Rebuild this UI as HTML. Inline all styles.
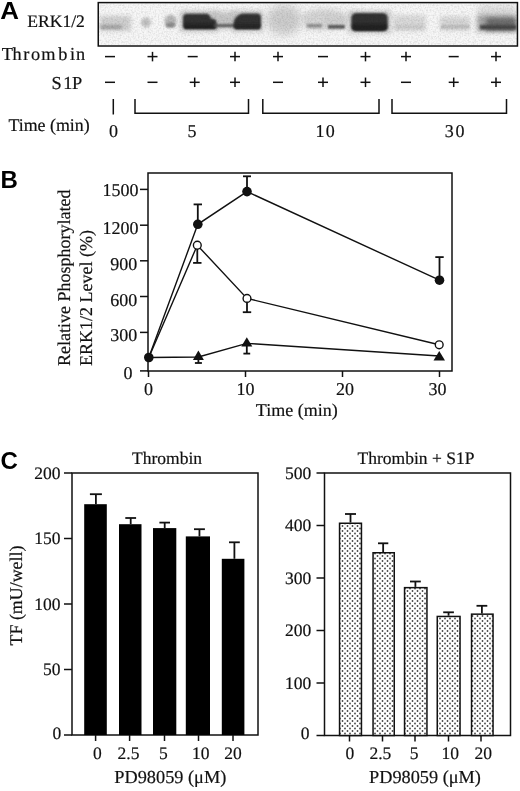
<!DOCTYPE html>
<html><head><meta charset="utf-8"><style>
html,body{margin:0;padding:0;background:#fff;width:520px;height:791px;overflow:hidden}
svg{display:block;filter:blur(0.3px)}
.t{font-family:"Liberation Serif",serif;font-size:17.5px;fill:#111;stroke:#111;stroke-width:0.2px;text-rendering:geometricPrecision}
.n{font-size:18.5px}
.L{font-family:"Liberation Sans",sans-serif;font-weight:bold;font-size:24px;fill:#000}
</style></head><body>
<svg width="520" height="791" viewBox="0 0 520 791">
<defs>
<filter id="g0.6" x="-50%" y="-50%" width="200%" height="200%"><feGaussianBlur stdDeviation="0.6"/></filter>
<filter id="g0.8" x="-50%" y="-50%" width="200%" height="200%"><feGaussianBlur stdDeviation="0.8"/></filter>
<filter id="g1" x="-50%" y="-50%" width="200%" height="200%"><feGaussianBlur stdDeviation="1"/></filter>
<filter id="g1.2" x="-50%" y="-50%" width="200%" height="200%"><feGaussianBlur stdDeviation="1.2"/></filter>
<filter id="g1.5" x="-50%" y="-50%" width="200%" height="200%"><feGaussianBlur stdDeviation="1.5"/></filter>
<filter id="g2" x="-50%" y="-50%" width="200%" height="200%"><feGaussianBlur stdDeviation="2"/></filter>
<filter id="g2.5" x="-50%" y="-50%" width="200%" height="200%"><feGaussianBlur stdDeviation="2.5"/></filter>
<filter id="g3" x="-50%" y="-50%" width="200%" height="200%"><feGaussianBlur stdDeviation="3"/></filter>
<filter id="g3.5" x="-50%" y="-50%" width="200%" height="200%"><feGaussianBlur stdDeviation="3.5"/></filter>
<filter id="g4" x="-50%" y="-50%" width="200%" height="200%"><feGaussianBlur stdDeviation="4"/></filter>
<filter id="g5" x="-50%" y="-50%" width="200%" height="200%"><feGaussianBlur stdDeviation="5"/></filter>
<filter id="noise" x="0" y="0" width="100%" height="100%"><feTurbulence type="fractalNoise" baseFrequency="0.6" numOctaves="2" seed="3"/><feColorMatrix type="matrix" values="0 0 0 0 0  0 0 0 0 0  0 0 0 0 0  1.2 0 0 0 -0.45"/></filter>
<filter id="b1" x="-50%" y="-50%" width="200%" height="200%"><feGaussianBlur stdDeviation="2.2"/></filter>
<filter id="b2" x="-50%" y="-50%" width="200%" height="200%"><feGaussianBlur stdDeviation="1.3"/></filter>
<filter id="b3" x="-50%" y="-50%" width="200%" height="200%"><feGaussianBlur stdDeviation="3.5"/></filter>
<pattern id="dots" x="0" y="0" width="5" height="5" patternUnits="userSpaceOnUse">
<rect width="5" height="5" fill="#fff"/>
<circle cx="2.5" cy="1" r="0.9" fill="#444"/>
<circle cx="0" cy="3.5" r="0.9" fill="#444"/>
<circle cx="5" cy="3.5" r="0.9" fill="#444"/>
</pattern>
<clipPath id="blotclip"><rect x="99" y="3.5" width="418" height="41.5"/></clipPath>
</defs>

<text class="L" transform="translate(0.3,19.2) scale(1.08,1)" x="0" y="0">A</text>
<text class="L" x="0.5" y="187.7">B</text>
<text class="L" x="0.5" y="469">C</text>
<g clip-path="url(#blotclip)">
<rect x="98" y="2" width="420" height="45" fill="#f7f7f7"/>
<ellipse cx="284" cy="20" rx="18" ry="15" fill="#cdcdcd" filter="url(#g4)"/>
<ellipse cx="325" cy="19" rx="23" ry="10" fill="#d2d2d2" filter="url(#g3)"/>
<rect x="478" y="5" width="38" height="13" rx="0" fill="#dedede" filter="url(#g3)"/>
<rect x="100" y="16" width="31" height="15" rx="0" fill="#cfcfcf" filter="url(#g2)"/>
<rect x="100" y="25" width="22" height="4" rx="0" fill="#a2a2a2" filter="url(#g1.5)"/>
<ellipse cx="146" cy="22.5" rx="5" ry="5" fill="#c2c2c2" filter="url(#g1.5)"/>
<ellipse cx="170.5" cy="21" rx="6" ry="6.5" fill="#b8b8b8" filter="url(#g1.5)"/>
<ellipse cx="170.5" cy="25" rx="5" ry="2.5" fill="#8c8c8c" filter="url(#g1)"/>
<rect x="180" y="11" width="39" height="20.5" rx="0" fill="#c4c4c4" filter="url(#g2.5)"/>
<rect x="214" y="12" width="23" height="17" rx="0" fill="#c6c6c6" filter="url(#g2.5)"/>
<rect x="232" y="11" width="31" height="20.5" rx="0" fill="#c4c4c4" filter="url(#g2.5)"/>
<path d="M187,13.8 L206,13.8 Q210,13.8 211,18.5 L214,19 Q216.5,19.5 216.5,23 L216.5,25.5 Q216.5,28.8 213,28.8 L187,28.8 Q183,28.8 183,24 L183,18 Q183,13.8 187,13.8 Z" fill="#333" filter="url(#g1.2)"/>
<rect x="184" y="24" width="32" height="4.800000000000001" rx="0" fill="#222" filter="url(#g1)"/>
<rect x="214" y="24.2" width="24" height="2.8000000000000007" rx="0" fill="#555" filter="url(#g0.8)"/>
<path d="M242,13.6 L257,13.6 Q261,13.6 261,18 L261,24.5 Q261,29 257,29 L237,29 Q233.5,29 233.5,25.5 L233.5,22 Q234.5,16.5 242,13.6 Z" fill="#333" filter="url(#g1.2)"/>
<rect x="235" y="24" width="25" height="5" rx="0" fill="#262626" filter="url(#g1)"/>
<rect x="305" y="14" width="18" height="15" rx="0" fill="#d6d6d6" filter="url(#g2)"/>
<rect x="307" y="24" width="15" height="3.5" rx="0" fill="#8c8c8c" filter="url(#g1)"/>
<rect x="327" y="16" width="18" height="12" rx="0" fill="#d0d0d0" filter="url(#g2)"/>
<rect x="328" y="25" width="17" height="3.6000000000000014" rx="0" fill="#555" filter="url(#g1)"/>
<rect x="348" y="11" width="43" height="22" rx="0" fill="#c6c6c6" filter="url(#g2.5)"/>
<rect x="351.3" y="13" width="36.39999999999998" height="17.9" rx="5" fill="#303030" filter="url(#g1.2)"/>
<rect x="352" y="24" width="35" height="6.5" rx="3" fill="#242424" filter="url(#g1)"/>
<rect x="393" y="15" width="33" height="16" rx="0" fill="#dadada" filter="url(#g2)"/>
<rect x="395" y="25" width="29" height="4" rx="0" fill="#cacaca" filter="url(#g1.5)"/>
<rect x="440" y="16.6" width="30" height="13.899999999999999" rx="0" fill="#d6d6d6" filter="url(#g2)"/>
<rect x="441" y="25" width="28" height="3.5" rx="0" fill="#bdbdbd" filter="url(#g1.2)"/>
<rect x="477" y="15" width="39" height="16.5" rx="0" fill="#a4a4a4" filter="url(#g2.5)"/>
<rect x="486" y="18" width="30" height="12.5" rx="0" fill="#6c6c6c" filter="url(#g2)"/>
<rect x="480" y="25" width="36" height="4.5" rx="0" fill="#464646" filter="url(#g1.2)"/>
<rect x="98" y="2" width="420" height="45" filter="url(#noise)" opacity="0.18"/>
</g>
<rect x="98.25" y="2.6" width="419.2" height="43.4" fill="none" stroke="#111" stroke-width="1.5"/>
<text class="t" style="font-size:17.6px" transform="translate(27.2,26.9) scale(1,1)" x="0" y="0">ERK1/2</text>
<text class="t" style="font-size:18.3px" y="60.3" x="1.8 12.6 23.3 30.9 41.2 58.3 70 76">Thrombin</text>
<text class="t" style="font-size:18.3px" y="89" x="51.5 63.3 72">S1P</text>
<text class="t" style="font-size:17.9px" transform="translate(8.4,131.1) scale(1,1)" x="0" y="0">Time (min)</text>
<line x1="105" y1="56.6" x2="115" y2="56.6" stroke="#111" stroke-width="1.5"/>
<line x1="105" y1="82.3" x2="115" y2="82.3" stroke="#111" stroke-width="1.5"/>
<line x1="147.5" y1="56.6" x2="157.5" y2="56.6" stroke="#111" stroke-width="1.5"/><line x1="152.5" y1="51.85" x2="152.5" y2="61.35" stroke="#111" stroke-width="1.5"/>
<line x1="147.5" y1="82.3" x2="157.5" y2="82.3" stroke="#111" stroke-width="1.5"/>
<line x1="187.7" y1="56.6" x2="197.7" y2="56.6" stroke="#111" stroke-width="1.5"/>
<line x1="189.7" y1="82.3" x2="199.7" y2="82.3" stroke="#111" stroke-width="1.5"/><line x1="194.7" y1="77.55" x2="194.7" y2="87.05" stroke="#111" stroke-width="1.5"/>
<line x1="230" y1="56.6" x2="240" y2="56.6" stroke="#111" stroke-width="1.5"/><line x1="235" y1="51.85" x2="235" y2="61.35" stroke="#111" stroke-width="1.5"/>
<line x1="230" y1="82.3" x2="240" y2="82.3" stroke="#111" stroke-width="1.5"/><line x1="235" y1="77.55" x2="235" y2="87.05" stroke="#111" stroke-width="1.5"/>
<line x1="273" y1="56.6" x2="283" y2="56.6" stroke="#111" stroke-width="1.5"/><line x1="278" y1="51.85" x2="278" y2="61.35" stroke="#111" stroke-width="1.5"/>
<line x1="273" y1="82.3" x2="283" y2="82.3" stroke="#111" stroke-width="1.5"/>
<line x1="318" y1="56.6" x2="328" y2="56.6" stroke="#111" stroke-width="1.5"/>
<line x1="318" y1="82.3" x2="328" y2="82.3" stroke="#111" stroke-width="1.5"/><line x1="323" y1="77.55" x2="323" y2="87.05" stroke="#111" stroke-width="1.5"/>
<line x1="360.5" y1="56.6" x2="370.5" y2="56.6" stroke="#111" stroke-width="1.5"/><line x1="365.5" y1="51.85" x2="365.5" y2="61.35" stroke="#111" stroke-width="1.5"/>
<line x1="360.5" y1="82.3" x2="370.5" y2="82.3" stroke="#111" stroke-width="1.5"/><line x1="365.5" y1="77.55" x2="365.5" y2="87.05" stroke="#111" stroke-width="1.5"/>
<line x1="401" y1="56.6" x2="411" y2="56.6" stroke="#111" stroke-width="1.5"/><line x1="406" y1="51.85" x2="406" y2="61.35" stroke="#111" stroke-width="1.5"/>
<line x1="401" y1="82.3" x2="411" y2="82.3" stroke="#111" stroke-width="1.5"/>
<line x1="448.7" y1="56.6" x2="458.7" y2="56.6" stroke="#111" stroke-width="1.5"/>
<line x1="448.7" y1="82.3" x2="458.7" y2="82.3" stroke="#111" stroke-width="1.5"/><line x1="453.7" y1="77.55" x2="453.7" y2="87.05" stroke="#111" stroke-width="1.5"/>
<line x1="491" y1="56.6" x2="501" y2="56.6" stroke="#111" stroke-width="1.5"/><line x1="496" y1="51.85" x2="496" y2="61.35" stroke="#111" stroke-width="1.5"/>
<line x1="491" y1="82.3" x2="501" y2="82.3" stroke="#111" stroke-width="1.5"/><line x1="496" y1="77.55" x2="496" y2="87.05" stroke="#111" stroke-width="1.5"/>
<g stroke="#111" stroke-width="1.5" fill="none">
<line x1="113.3" y1="99" x2="113.3" y2="114.5"/>
<polyline points="135,99 135,113.2 248.5,113.2 248.5,99"/>
<polyline points="262.8,99 262.8,113.2 379,113.2 379,99"/>
<polyline points="392,99 392,113.2 506.5,113.2 506.5,99"/>
</g>
<text class="t" style="font-size:18px" transform="translate(113.6,136.8) scale(1,1)" x="0" y="0" text-anchor="middle">0</text>
<text class="t" style="font-size:18px" transform="translate(192.1,136.8) scale(1,1)" x="0" y="0" text-anchor="middle">5</text>
<text class="t" style="font-size:18px" transform="translate(0,136.8) scale(1,1)" x="315.6 325.8" y="0">10</text>
<text class="t" style="font-size:18px" transform="translate(0,136.8) scale(1,1)" x="444.7 455.6" y="0">30</text>
<g stroke="#111" stroke-width="1.5" fill="none">
<rect x="148" y="173" width="304" height="198"/>
<line x1="140" y1="332.4" x2="148" y2="332.4"/>
<line x1="140" y1="296.5" x2="148" y2="296.5"/>
<line x1="140" y1="260.8" x2="148" y2="260.8"/>
<line x1="140" y1="225.2" x2="148" y2="225.2"/>
<line x1="140" y1="189.4" x2="148" y2="189.4"/>
<line x1="140" y1="370.9" x2="148" y2="370.9"/>
<line x1="148.5" y1="371" x2="148.5" y2="377"/>
<line x1="245.5" y1="371" x2="245.5" y2="377"/>
<line x1="342.5" y1="371" x2="342.5" y2="377"/>
<line x1="439.5" y1="371" x2="439.5" y2="377"/>
</g>
<text class="t" style="font-size:18px" transform="translate(138.5,196.1) scale(1,1)" x="0" y="0" text-anchor="end">1500</text>
<text class="t" style="font-size:18px" transform="translate(138.5,233.6) scale(1,1)" x="0" y="0" text-anchor="end">1200</text>
<text class="t" style="font-size:18px" transform="translate(137.3,269.6) scale(1,1)" x="0" y="0" text-anchor="end">900</text>
<text class="t" style="font-size:18px" transform="translate(137.3,305.9) scale(1,1)" x="0" y="0" text-anchor="end">600</text>
<text class="t" style="font-size:18px" transform="translate(137.3,341.3) scale(1,1)" x="0" y="0" text-anchor="end">300</text>
<text class="t" style="font-size:18px" transform="translate(132.4,379.3) scale(1,1)" x="0" y="0" text-anchor="end">0</text>
<text class="t" style="font-size:18px" transform="translate(148.6,395.2) scale(1,1)" x="0" y="0" text-anchor="middle">0</text>
<text class="t" style="font-size:18px" transform="translate(245.6,395.2) scale(1,1)" x="0" y="0" text-anchor="middle">10</text>
<text class="t" style="font-size:18px" transform="translate(345,395.2) scale(1,1)" x="0" y="0" text-anchor="middle">20</text>
<text class="t" style="font-size:18px" transform="translate(437.4,395.2) scale(1,1)" x="0" y="0" text-anchor="middle">30</text>
<text class="t" style="font-size:18px" transform="translate(296.7,416) scale(1,1)" x="0" y="0" text-anchor="middle">Time (min)</text>
<text class="t" style="font-size:18px" transform="translate(70,366) rotate(-90)" x="0" y="0">Relative Phosphorylated</text>
<text class="t" style="font-size:18px" transform="translate(91.5,366) rotate(-90)" x="0" y="0">ERK1/2 Level (%)</text>
<g stroke="#111" stroke-width="1.4" fill="none">
<polyline points="148.8,357.5 197.8,224.3 247,191.6 439.5,280.2"/>
<polyline points="148.8,357.5 197.3,245.2 247,298.4 439.2,344.8"/>
<polyline points="148.8,357.5 198.4,357 246.8,343.4 439.25,356"/>
<line x1="197.8" y1="224.3" x2="197.8" y2="204.4" stroke-width="1.8"/>
<line x1="193.60000000000002" y1="204.4" x2="202.0" y2="204.4" stroke-width="1.8"/>
<line x1="247" y1="191.6" x2="247" y2="176.3" stroke-width="1.8"/>
<line x1="243" y1="176.3" x2="251" y2="176.3" stroke-width="1.8"/>
<line x1="439.5" y1="280.2" x2="439.5" y2="257.1" stroke-width="1.8"/>
<line x1="435.3" y1="257.1" x2="443.7" y2="257.1" stroke-width="1.8"/>
<line x1="197.3" y1="245.2" x2="197.3" y2="262.9" stroke-width="1.8"/>
<line x1="193.10000000000002" y1="262.9" x2="201.5" y2="262.9" stroke-width="1.8"/>
<line x1="247" y1="298.4" x2="247" y2="312.2" stroke-width="1.8"/>
<line x1="242.8" y1="312.2" x2="251.2" y2="312.2" stroke-width="1.8"/>
<line x1="198.4" y1="357" x2="198.4" y2="363" stroke-width="1.8"/>
<line x1="194.9" y1="363" x2="201.9" y2="363" stroke-width="1.8"/>
<line x1="246.8" y1="343.4" x2="246.8" y2="353.6" stroke-width="1.8"/>
<line x1="243.4" y1="353.6" x2="250.20000000000002" y2="353.6" stroke-width="1.8"/>
</g>
<circle cx="197.3" cy="245.2" r="3.9" fill="#fff" stroke="#111" stroke-width="1.4"/>
<circle cx="247" cy="298.4" r="3.9" fill="#fff" stroke="#111" stroke-width="1.4"/>
<circle cx="439.2" cy="344.8" r="3.9" fill="#fff" stroke="#111" stroke-width="1.4"/>
<polygon points="198.4,350.5 192.9,360 203.9,360" fill="#111"/>
<polygon points="246.8,337.3 241.3,346.4 252.3,346.4" fill="#111"/>
<polygon points="439.25,351 433.5,360.5 445,360.5" fill="#111"/>
<circle cx="148.8" cy="357.5" r="4.8" fill="#111"/>
<circle cx="197.8" cy="224.3" r="4.8" fill="#111"/>
<circle cx="247" cy="191.6" r="4.8" fill="#111"/>
<circle cx="439.5" cy="280.2" r="4.8" fill="#111"/>
<g stroke="#111" stroke-width="1.5" fill="none">
<rect x="72" y="473" width="186" height="262"/>
<line x1="64" y1="735.0" x2="72" y2="735.0"/>
<line x1="64" y1="669.5" x2="72" y2="669.5"/>
<line x1="64" y1="604.0" x2="72" y2="604.0"/>
<line x1="64" y1="538.5" x2="72" y2="538.5"/>
<line x1="64" y1="473.0" x2="72" y2="473.0"/>
<line x1="95.6" y1="735" x2="95.6" y2="741"/>
<line x1="129.6" y1="735" x2="129.6" y2="741"/>
<line x1="164.5" y1="735" x2="164.5" y2="741"/>
<line x1="198.5" y1="735" x2="198.5" y2="741"/>
<line x1="233" y1="735" x2="233" y2="741"/>
</g>
<text class="t" style="font-size:17.5px" transform="translate(61.3,738.8) scale(1,1)" x="0" y="0" text-anchor="end">0</text>
<text class="t" style="font-size:17.5px" transform="translate(60.5,675.1) scale(1,1)" x="0" y="0" text-anchor="end">50</text>
<text class="t" style="font-size:17.5px" transform="translate(60.5,609.6) scale(1,1)" x="0" y="0" text-anchor="end">100</text>
<text class="t" style="font-size:17.5px" transform="translate(60.5,544.1) scale(1,1)" x="0" y="0" text-anchor="end">150</text>
<text class="t" style="font-size:17.5px" transform="translate(60.5,478.6) scale(1,1)" x="0" y="0" text-anchor="end">200</text>
<rect x="84.2" y="504.2" width="22.599999999999994" height="230.8" fill="#000"/>
<line x1="95.9" y1="504.2" x2="95.9" y2="494.2" stroke="#111" stroke-width="1.8"/>
<line x1="89.9" y1="494.2" x2="101.9" y2="494.2" stroke="#111" stroke-width="1.8"/>
<rect x="119" y="524.2" width="22.5" height="210.79999999999995" fill="#000"/>
<line x1="130.7" y1="524.2" x2="130.7" y2="518" stroke="#111" stroke-width="1.8"/>
<line x1="125.3" y1="518" x2="136.1" y2="518" stroke="#111" stroke-width="1.8"/>
<rect x="153" y="528.1" width="23.30000000000001" height="206.89999999999998" fill="#000"/>
<line x1="164.7" y1="528.1" x2="164.7" y2="522.6" stroke="#111" stroke-width="1.8"/>
<line x1="159.4" y1="522.6" x2="170" y2="522.6" stroke="#111" stroke-width="1.8"/>
<rect x="185.8" y="536.4" width="24.19999999999999" height="198.60000000000002" fill="#000"/>
<line x1="199.45" y1="536.4" x2="199.45" y2="529.2" stroke="#111" stroke-width="1.8"/>
<line x1="194" y1="529.2" x2="204.9" y2="529.2" stroke="#111" stroke-width="1.8"/>
<rect x="221.8" y="558.8" width="22.599999999999994" height="176.20000000000005" fill="#000"/>
<line x1="234.4" y1="558.8" x2="234.4" y2="542.3" stroke="#111" stroke-width="1.8"/>
<line x1="229" y1="542.3" x2="239.8" y2="542.3" stroke="#111" stroke-width="1.8"/>
<text class="t" style="font-size:17.5px" transform="translate(97.4,758.5) scale(1,1)" x="0" y="0" text-anchor="middle">0</text>
<text class="t" style="font-size:17.5px" transform="translate(128.5,758.5) scale(1,1)" x="0" y="0" text-anchor="middle">2.5</text>
<text class="t" style="font-size:17.5px" transform="translate(163.3,758.5) scale(1,1)" x="0" y="0" text-anchor="middle">5</text>
<text class="t" style="font-size:17.5px" transform="translate(200.8,758.5) scale(1,1)" x="0" y="0" text-anchor="middle">10</text>
<text class="t" style="font-size:17.5px" transform="translate(233.1,758.5) scale(1,1)" x="0" y="0" text-anchor="middle">20</text>
<text class="t" style="font-size:17.5px" transform="translate(167,464) scale(1,1)" x="0" y="0" text-anchor="middle">Thrombin</text>
<text class="t" style="font-size:18.3px" x="170.3" y="782.6" text-anchor="middle">PD98059 (&#956;M)</text>
<g stroke="#111" stroke-width="1.5" fill="none">
<rect x="324.5" y="473" width="186.0" height="262.5"/>
<line x1="316.5" y1="735.5" x2="324.5" y2="735.5"/>
<line x1="316.5" y1="683.0" x2="324.5" y2="683.0"/>
<line x1="316.5" y1="630.5" x2="324.5" y2="630.5"/>
<line x1="316.5" y1="578.0" x2="324.5" y2="578.0"/>
<line x1="316.5" y1="525.5" x2="324.5" y2="525.5"/>
<line x1="316.5" y1="473.0" x2="324.5" y2="473.0"/>
<line x1="349.5" y1="735.5" x2="349.5" y2="741.5"/>
<line x1="382.5" y1="735.5" x2="382.5" y2="741.5"/>
<line x1="415" y1="735.5" x2="415" y2="741.5"/>
<line x1="448.5" y1="735.5" x2="448.5" y2="741.5"/>
<line x1="481" y1="735.5" x2="481" y2="741.5"/>
</g>
<text class="t" style="font-size:17.5px" transform="translate(309.4,739.3) scale(1,1)" x="0" y="0" text-anchor="end">0</text>
<text class="t" style="font-size:17.5px" transform="translate(311.2,688.6) scale(1,1)" x="0" y="0" text-anchor="end">100</text>
<text class="t" style="font-size:17.5px" transform="translate(311.2,636.1) scale(1,1)" x="0" y="0" text-anchor="end">200</text>
<text class="t" style="font-size:17.5px" transform="translate(311.2,583.6) scale(1,1)" x="0" y="0" text-anchor="end">300</text>
<text class="t" style="font-size:17.5px" transform="translate(311.2,531.1) scale(1,1)" x="0" y="0" text-anchor="end">400</text>
<text class="t" style="font-size:17.5px" transform="translate(311.2,478.6) scale(1,1)" x="0" y="0" text-anchor="end">500</text>
<rect x="339.55" y="523.25" width="21.899999999999977" height="212.25" fill="url(#dots)" stroke="#111" stroke-width="1.5"/>
<line x1="350.5" y1="522.5" x2="350.5" y2="514" stroke="#111" stroke-width="1.8"/>
<line x1="345" y1="514" x2="356" y2="514" stroke="#111" stroke-width="1.8"/>
<rect x="373.05" y="552.75" width="21.19999999999999" height="182.75" fill="url(#dots)" stroke="#111" stroke-width="1.5"/>
<line x1="383.15" y1="552" x2="383.15" y2="543.3" stroke="#111" stroke-width="1.8"/>
<line x1="378" y1="543.3" x2="388.3" y2="543.3" stroke="#111" stroke-width="1.8"/>
<rect x="404.55" y="587.65" width="22.399999999999977" height="147.85000000000002" fill="url(#dots)" stroke="#111" stroke-width="1.5"/>
<line x1="415.4" y1="586.9" x2="415.4" y2="581.5" stroke="#111" stroke-width="1.8"/>
<line x1="410" y1="581.5" x2="420.8" y2="581.5" stroke="#111" stroke-width="1.8"/>
<rect x="437.25" y="616.45" width="22.80000000000001" height="119.04999999999995" fill="url(#dots)" stroke="#111" stroke-width="1.5"/>
<line x1="448.54999999999995" y1="615.7" x2="448.54999999999995" y2="612.3" stroke="#111" stroke-width="1.8"/>
<line x1="443.2" y1="612.3" x2="453.9" y2="612.3" stroke="#111" stroke-width="1.8"/>
<rect x="471.55" y="614.15" width="21.5" height="121.35000000000002" fill="url(#dots)" stroke="#111" stroke-width="1.5"/>
<line x1="481.9" y1="613.4" x2="481.9" y2="605.8" stroke="#111" stroke-width="1.8"/>
<line x1="476.5" y1="605.8" x2="487.3" y2="605.8" stroke="#111" stroke-width="1.8"/>
<text class="t" style="font-size:17.5px" transform="translate(349.8,758.5) scale(1,1)" x="0" y="0" text-anchor="middle">0</text>
<text class="t" style="font-size:17.5px" transform="translate(380.4,758.5) scale(1,1)" x="0" y="0" text-anchor="middle">2.5</text>
<text class="t" style="font-size:17.5px" transform="translate(414.2,758.5) scale(1,1)" x="0" y="0" text-anchor="middle">5</text>
<text class="t" style="font-size:17.5px" transform="translate(450.3,758.5) scale(1,1)" x="0" y="0" text-anchor="middle">10</text>
<text class="t" style="font-size:17.5px" transform="translate(483.2,758.5) scale(1,1)" x="0" y="0" text-anchor="middle">20</text>
<text class="t" style="font-size:17.5px" transform="translate(416,464) scale(1,1)" x="0" y="0" text-anchor="middle">Thrombin + S1P</text>
<text class="t" style="font-size:18.3px" x="425" y="782.6" text-anchor="middle">PD98059 (&#956;M)</text>
<text class="t" style="font-size:17.9px" transform="translate(21.8,595.5) rotate(-90)" x="0" y="0" text-anchor="middle">TF (mU/well)</text>
</svg></body></html>
